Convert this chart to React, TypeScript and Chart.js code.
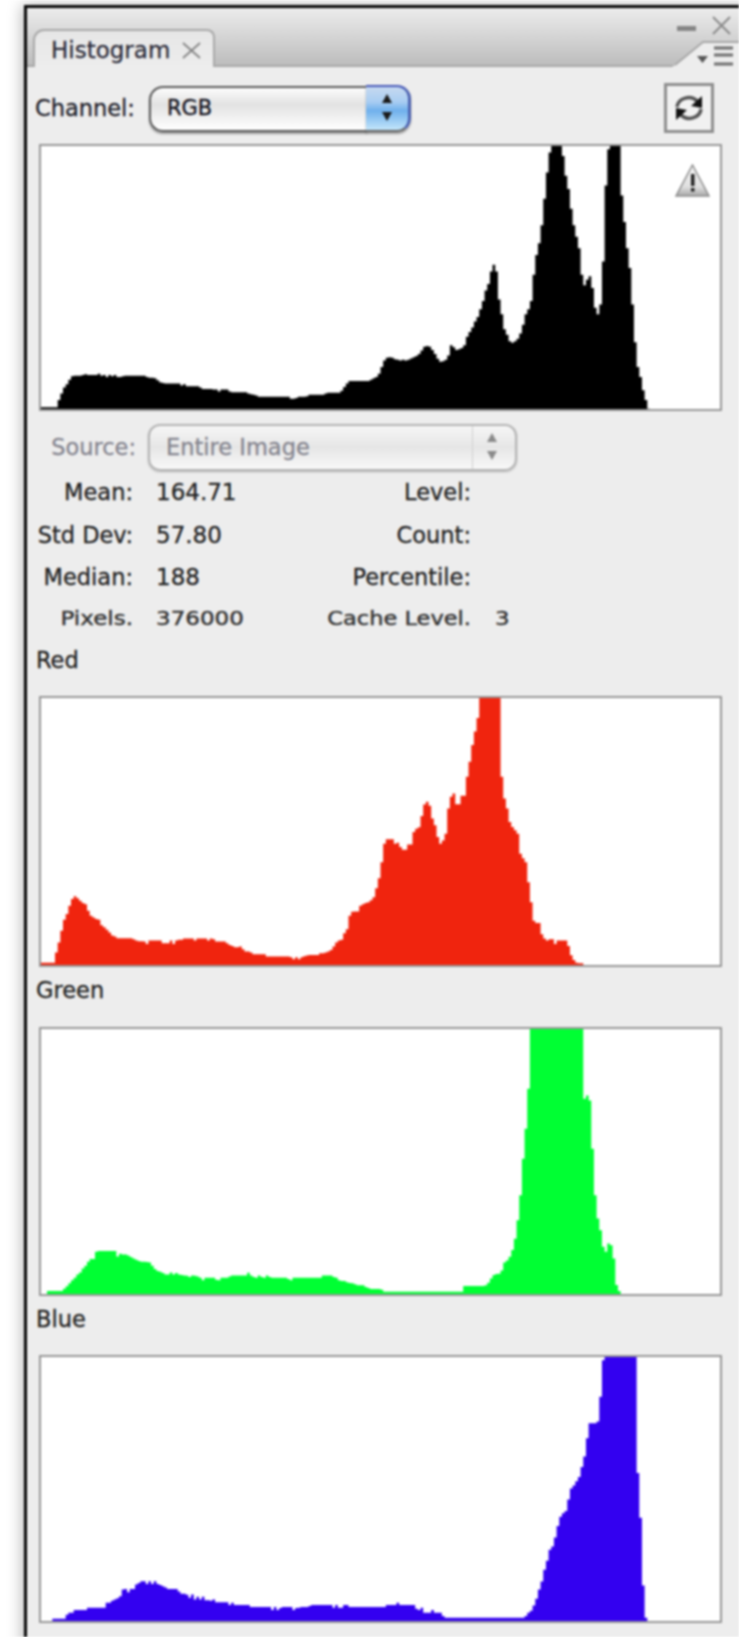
import React, { useEffect, useRef } from "react";
import { Chart, registerables } from "chart.js";

Chart.register(...registerables);

const levels: string[] = Array.from({ length: 256 }, (_, i) => String(i));

const rgbValues = [
  8,8,8,8,8,8,8,30,50,68,
  78,92,102,104,104,104,106,108,106,106,
  106,106,110,104,106,100,106,102,106,100,
  100,102,104,104,104,104,104,104,104,104,
  100,98,98,96,90,84,82,80,80,80,
  80,80,80,74,78,72,72,72,72,72,
  68,64,64,64,64,62,62,56,62,62,
  62,56,54,54,54,54,54,54,50,48,
  46,44,40,40,40,40,40,40,40,40,
  40,40,40,40,34,34,36,40,40,40,
  42,46,46,46,46,46,46,50,52,52,
  52,52,52,58,70,80,88,88,88,88,
  88,88,88,88,92,96,100,110,130,150,
  158,160,158,154,152,150,152,150,152,156,
  160,164,170,180,192,194,192,182,170,155,
  146,148,152,165,196,190,182,184,188,196,
  222,236,250,268,282,305,330,362,382,420,
  440,420,335,290,245,228,208,204,208,216,
  232,258,290,305,330,410,470,505,560,640,
  720,780,800,800,800,800,770,710,670,610,
  560,525,490,410,378,395,405,370,310,290,
  320,450,680,790,800,800,800,800,650,570,
  490,430,320,205,130,100,60,30,4,0,
  0,0,0,0,0,0,0,0,0,0,
  0,0,0,0,0,0,0,0,0,0,
  0,0,0,0,0,0,
];

const redValues = [
  10,10,10,10,10,10,40,70,105,138,
  155,180,200,208,202,195,188,184,165,150,
  145,140,138,122,116,108,100,91,88,83,
  83,83,83,83,83,80,76,74,74,73,
  66,76,76,76,76,76,68,68,68,76,
  66,76,78,78,82,82,82,82,76,82,
  82,82,82,76,82,80,73,73,73,73,
  68,63,60,56,56,58,50,43,43,40,
  35,35,35,35,35,28,28,28,28,28,
  28,28,28,28,26,20,26,20,26,29,
  31,33,33,33,33,38,38,40,43,48,
  58,70,76,78,98,110,150,162,163,163,
  180,184,188,190,196,205,232,262,310,365,
  378,378,378,365,368,355,347,347,363,363,
  400,410,414,448,482,490,478,440,420,385,
  365,375,395,470,505,515,483,483,508,508,
  565,610,660,700,740,800,800,800,800,800,
  800,800,800,565,500,470,430,415,405,395,
  335,322,310,250,190,135,128,128,95,82,
  76,80,80,66,76,76,76,76,60,32,
  18,10,8,8,0,0,0,0,0,0,
  0,0,0,0,0,0,0,0,0,0,
  0,0,0,0,0,0,0,0,0,0,
  0,0,0,0,0,0,0,0,0,0,
  0,0,0,0,0,0,0,0,0,0,
  0,0,0,0,0,0,
];

const greenValues = [
  0,0,0,12,12,12,12,12,12,19,
  26,35,44,52,62,68,80,88,100,108,
  108,130,132,132,132,132,132,132,132,116,
  124,122,122,119,114,110,106,102,100,100,
  99,98,88,78,72,70,66,62,62,68,
  62,66,62,60,59,58,54,59,58,56,
  52,44,52,52,52,52,46,44,52,52,
  52,56,59,59,59,59,59,59,67,59,
  54,52,59,54,52,59,54,52,52,52,
  52,52,52,48,44,52,52,52,52,52,
  52,52,52,52,52,52,59,59,59,59,
  54,52,44,42,42,38,36,35,32,29,
  29,29,24,21,18,18,18,18,16,10,
  10,10,10,10,10,10,10,10,10,10,
  10,10,10,10,10,10,10,10,10,10,
  10,10,10,10,10,10,10,10,10,27,
  27,27,27,27,27,27,27,29,37,50,
  60,63,64,74,98,104,115,135,169,225,
  300,410,500,620,800,800,800,800,800,800,
  800,800,800,800,800,800,800,800,800,800,
  800,800,800,800,590,600,585,440,300,230,
  195,145,130,155,150,110,30,12,2,0,
  0,0,0,0,0,0,0,0,0,0,
  0,0,0,0,0,0,0,0,0,0,
  0,0,0,0,0,0,0,0,0,0,
  0,0,0,0,0,0,
];

const blueValues = [
  0,0,0,0,0,10,10,10,10,10,
  22,28,28,36,36,36,36,36,43,43,
  43,43,43,43,43,58,58,64,68,72,
  78,98,100,90,100,100,113,118,123,123,
  115,123,115,123,115,112,108,104,100,100,
  100,100,92,85,85,82,73,83,68,76,
  68,76,66,66,64,68,60,60,60,60,
  60,51,58,51,51,51,51,51,51,45,
  45,45,45,45,45,45,45,36,45,36,
  42,45,45,45,45,36,42,43,45,45,
  45,48,51,51,51,51,51,51,51,51,
  43,51,43,43,51,51,45,45,45,45,
  45,45,45,45,45,45,45,45,45,45,
  51,51,51,51,58,51,51,51,51,51,
  51,40,36,43,28,28,28,36,28,28,
  28,18,13,13,13,13,13,13,13,13,
  13,13,13,13,13,13,13,13,13,13,
  13,13,13,13,13,13,13,13,13,13,
  13,13,18,28,34,50,70,98,122,158,
  185,218,228,255,290,318,328,335,370,403,
  412,425,438,468,500,555,600,600,600,605,
  680,790,800,800,800,800,800,800,800,800,
  800,800,800,800,450,315,110,13,3,0,
  0,0,0,0,0,0,0,0,0,0,
  0,0,0,0,0,0,0,0,0,0,
  0,0,0,0,0,0,
];

const statLeft = [
  ["Mean:", "164.71", 492],
  ["Std Dev:", "57.80", 535],
  ["Median:", "188", 577],
] as const;
const statRight = [
  ["Level:", 492],
  ["Count:", 535],
  ["Percentile:", 577],
] as const;

const FONT = '"DejaVu Sans", sans-serif';

function Hist({ top, height, values, color }: { top: number; height: number; values: number[]; color: string }) {
  const ref = useRef<HTMLCanvasElement>(null);
  useEffect(() => {
    const chart = new Chart(ref.current!, {
      type: "line",
      data: {
        labels: levels,
        datasets: [
          {
            data: values,
            backgroundColor: color,
            borderWidth: 0,
            pointRadius: 0,
            stepped: "middle",
            fill: "origin",
          },
        ],
      },
      options: {
        animation: false,
        responsive: false,
        layout: { padding: 0 },
        plugins: { legend: { display: false }, tooltip: { enabled: false }, title: { display: false } },
        scales: {
          x: { display: false, offset: true, grid: { display: false } },
          y: { display: false, min: 0, max: 800, grid: { display: false } },
        },
      },
    });
    return () => chart.destroy();
  }, []);
  return (
    <div style={{ position: "absolute", left: 39, top, width: 683, height, background: "#fff" }}>
      <canvas ref={ref} width={683} height={height - 3} style={{ position: "absolute", left: 0, top: 2 }} />
      <div
        style={{
          position: "absolute",
          inset: 0,
          boxSizing: "border-box",
          border: "2px solid #979797",
        }}
      />
    </div>
  );
}

function T({
  x,
  y,
  children,
  right,
  size = 22.5,
  color = "#222",
  extra,
}: {
  x: number;
  y: number;
  children: React.ReactNode;
  right?: boolean;
  size?: number;
  color?: string;
  extra?: React.CSSProperties;
}) {
  const st: React.CSSProperties = {
    position: "absolute",
    top: y - 15,
    height: 30,
    lineHeight: "30px",
    fontFamily: FONT,
    fontSize: size,
    color,
    whiteSpace: "nowrap",
    WebkitTextStroke: "0.3px currentColor",
    ...(right ? { right: 739 - x } : { left: x }),
    ...extra,
  };
  return <div style={st}>{children}</div>;
}

function Arrows({ x, y1, y2, color }: { x: number; y1: number; y2: number; color: string }) {
  return (
    <svg style={{ position: "absolute", left: x - 6, top: y1 - 5 }} width="12" height={y2 - y1 + 10}>
      <polygon points="6,0 11,9 1,9" fill={color} />
      <polygon points={`6,${y2 - y1 + 10} 11,${y2 - y1 + 1} 1,${y2 - y1 + 1}`} fill={color} />
    </svg>
  );
}

const squished: React.CSSProperties = { transform: "scaleY(0.85)", color: "#333", WebkitTextStroke: "0.5px #333" };

export default function App() {
  return (
    <div
      style={{
        position: "absolute",
        left: 0,
        top: 0,
        width: 739,
        height: 1637,
        overflow: "hidden",
        background: "#fff",
        filter: "blur(0.9px)",
      }}
    >
      <div
        style={{
          position: "absolute",
          left: 24,
          top: 5,
          width: 730,
          height: 1650,
          boxSizing: "border-box",
          border: "3px solid #050505",
          background: "#ededed",
          boxShadow: "-2px 0 14px rgba(0,0,0,0.28)",
        }}
      />
      {/* title bar */}
      <div
        style={{
          position: "absolute",
          left: 27,
          top: 8,
          width: 712,
          height: 57,
          background: "linear-gradient(#ececec, #bdbdbd)",
          borderBottom: "2px solid #a8a8a8",
        }}
      />
      {/* tab */}
      <div
        style={{
          position: "absolute",
          left: 33,
          top: 29,
          width: 182,
          height: 38,
          boxSizing: "border-box",
          background: "linear-gradient(#e6e6e6, #ededed)",
          border: "2px solid #a8a8a8",
          borderBottom: "none",
          borderRadius: "11px 8px 0 0",
        }}
      />
      <T x={51} y={50} size={23} color="#2c2c3a">Histogram</T>
      <svg style={{ position: "absolute", left: 181, top: 42 }} width="21" height="17">
        <path d="M2 1 L19 16 M19 1 L2 16" stroke="#848484" strokeWidth="1.8" />
      </svg>
      {/* top right controls */}
      <div style={{ position: "absolute", left: 677, top: 26, width: 19, height: 5, background: "#858585" }} />
      <svg style={{ position: "absolute", left: 711, top: 16 }} width="21" height="19">
        <path d="M2 1 L19 18 M19 1 L2 18" stroke="#8a8a8a" strokeWidth="2" />
      </svg>
      <svg style={{ position: "absolute", left: 672, top: 39 }} width="67" height="29">
        <path d="M0 28 L3 26 L31 3 L67 3 L67 28 Z" fill="#ededed" />
        <path d="M3 26 L31 3 L67 3" fill="none" stroke="#a8a8a8" strokeWidth="2" />
        <polygon points="25,17 36,17 30.5,24" fill="#555" />
        <path d="M42 9 H61 M42 16 H61 M42 25 H61" stroke="#6e6e6e" strokeWidth="3" />
      </svg>

      {/* channel row */}
      <T x={35} y={108} size={22.5} color="#1e1e2a">Channel:</T>
      <div
        style={{
          position: "absolute",
          left: 149,
          top: 86,
          width: 218,
          height: 46,
          boxSizing: "border-box",
          border: "2px solid #5a5a5a",
          borderRight: "none",
          borderRadius: "14px 0 0 14px",
          background: "linear-gradient(#fcfcfc 0%, #e2e2e2 40%, #ececec 60%, #ffffff 100%)",
          boxShadow: "0 2px 2px rgba(0,0,0,0.35)",
        }}
      />
      <div
        style={{
          position: "absolute",
          left: 366,
          top: 85,
          width: 45,
          height: 47,
          boxSizing: "border-box",
          borderTop: "2px solid #4658b8",
          borderRight: "3px solid #4c62b0",
          borderBottom: "2px solid #666",
          borderRadius: "0 14px 14px 0",
          background: "linear-gradient(#c6d9f0 0%, #a8cdf2 35%, #6fb0ec 55%, #c4e6fb 100%)",
          boxShadow: "0 2px 2px rgba(0,0,0,0.35)",
        }}
      />
      <Arrows x={387} y1={99} y2={116} color="#1a1a1a" />
      <T x={167} y={108} size={21} color="#12121c">RGB</T>
      {/* refresh */}
      <div
        style={{
          position: "absolute",
          left: 664,
          top: 83,
          width: 50,
          height: 50,
          boxSizing: "border-box",
          border: "3px solid #8e8e8e",
          background: "#f1f1f1",
        }}
      />
      <svg style={{ position: "absolute", left: 673, top: 92 }} width="32" height="32" viewBox="0 0 32 32">
        <path d="M4 15 C5 6 18 2 25 10" fill="none" stroke="#555" strokeWidth="3.5" />
        <polygon points="29,4 29,16 18,14" fill="#111" />
        <path d="M28 17 C27 26 14 30 7 22" fill="none" stroke="#555" strokeWidth="3.5" />
        <polygon points="3,28 3,16 14,18" fill="#111" />
      </svg>

      <Hist top={144} height={267} values={rgbValues} color="#000000" />
      {/* warning icon */}
      <svg style={{ position: "absolute", left: 675, top: 164 }} width="35" height="34" viewBox="0 0 35 34">
        <defs>
          <linearGradient id="warn" x1="0" y1="0" x2="0" y2="1">
            <stop offset="0" stopColor="#f4f4f4" />
            <stop offset="0.7" stopColor="#e0e0e0" />
            <stop offset="1" stopColor="#a8a8a8" />
          </linearGradient>
        </defs>
        <polygon points="17.5,1 34,32 1,32" fill="url(#warn)" stroke="#8d8d8d" strokeWidth="1.5" />
        <rect x="16" y="10" width="3.5" height="12" fill="#222" />
        <rect x="16" y="24" width="3.5" height="3.5" fill="#222" />
      </svg>

      {/* source row */}
      <T x={136} y={447} right size={22.5} color="#85858f">Source:</T>
      <div
        style={{
          position: "absolute",
          left: 148,
          top: 424,
          width: 369,
          height: 47,
          boxSizing: "border-box",
          border: "2px solid #b4b4b4",
          borderRadius: 12,
          background: "linear-gradient(#f6f6f6 0%, #e6e6e6 50%, #f8f8f8 100%)",
          boxShadow: "0 1px 2px rgba(0,0,0,0.25)",
        }}
      />
      <div style={{ position: "absolute", left: 472, top: 426, width: 1, height: 43, background: "#cfcfcf" }} />
      <Arrows x={492} y1={438} y2={455} color="#8a8a8a" />
      <T x={166} y={447} size={22.5} color="#85858f">Entire Image</T>

      {statLeft.map(([label, value, y]) => (
        <React.Fragment key={label}>
          <T x={133} y={y} right>{label}</T>
          <T x={156} y={y} size={23}>{value}</T>
        </React.Fragment>
      ))}
      {statRight.map(([label, y]) => (
        <T key={label} x={471} y={y} right>{label}</T>
      ))}
      <T x={133} y={618} right size={23} extra={squished}>Pixels.</T>
      <T x={156} y={618} size={23} extra={squished}>376000</T>
      <T x={471} y={618} right size={22.5} extra={squished}>Cache Level.</T>
      <T x={495} y={618} size={23} extra={squished}>3</T>

      <T x={36} y={660}>Red</T>
      <Hist top={696} height={271} values={redValues} color="#f0240e" />
      <T x={36} y={990}>Green</T>
      <Hist top={1027} height={269} values={greenValues} color="#00ff33" />
      <T x={36} y={1319}>Blue</T>
      <Hist top={1355} height={268} values={blueValues} color="#3300f0" />
    </div>
  );
}
